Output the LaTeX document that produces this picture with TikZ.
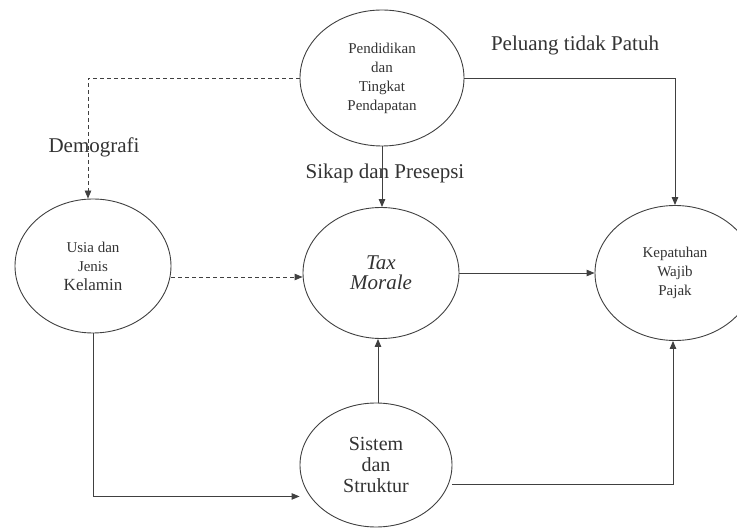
\documentclass[tikz,border=0pt]{standalone}
\usepackage{fontspec}
\setmainfont{Liberation Serif}
\usetikzlibrary{shapes.geometric,arrows.meta}
\begin{document}
\begin{tikzpicture}[x=1pt,y=-1pt,
  el/.style={draw=black!75,line width=0.9pt,ellipse,inner sep=0pt,align=center,text=black!80},
  small/.style={font=\fontsize{15}{19}\selectfont},
  big/.style={font=\fontsize{20}{21}\selectfont},
  con/.style={draw=black!75,line width=0.9pt,-{Triangle[length=8pt,width=6.5pt]}},
  dsh/.style={con,dash pattern=on 4pt off 3pt},
  lbl/.style={text=black!80,font=\fontsize{21}{22}\selectfont,inner sep=0pt}]
\useasboundingbox (0,0) rectangle (737,529);
\clip (0,0) rectangle (737,529);
\node[el,small,minimum width=164pt,minimum height=136pt] (P) at (382,78) {Pendidikan\\dan\\Tingkat\\Pendapatan};
\node[el,small,minimum width=156pt,minimum height=134pt] (U) at (93,266) {Usia dan\\Jenis\\{\fontsize{17}{19}\selectfont Kelamin}};
\node[el,big,minimum width=156pt,minimum height=131pt,font=\fontsize{21}{20}\selectfont\itshape] (T) at (381,273) {Tax\\Morale};
\node[el,small,minimum width=160pt,minimum height=135pt] (K) at (675,273) {Kepatuhan\\Wajib\\Pajak};
\node[el,big,minimum width=152pt,minimum height=124pt] (S) at (376,465) {Sistem\\dan\\Struktur};
\node[lbl] (dem) at (94,147) {Demografi};
\node[lbl] (pel) at (575,45) {Peluang tidak Patuh};
\node[lbl] (sik) at (385,173) {Sikap dan Presepsi};
% connectors
\draw[dsh] (P.west) -| ([xshift=-5pt]U.north);
\draw[dsh] ([yshift=-11pt]U.east) coordinate (ua) -- (ua -| T.west);
\draw[con] (P.east) -| (K.north);
\draw[con] (P.south) -- (P.south |- T.north);
\draw[con] (T.east) -- (K.west);
\draw[con] ([xshift=2pt]S.north) coordinate (sn) -- (sn |- T.south);
\draw[con] (U.south) -- ++(0,163) coordinate (ub) -- (ub -| S.west);
\draw[con] ([yshift=-19pt]S.east) coordinate (se) -| ([xshift=-2pt]K.south);
\end{tikzpicture}
\end{document}
